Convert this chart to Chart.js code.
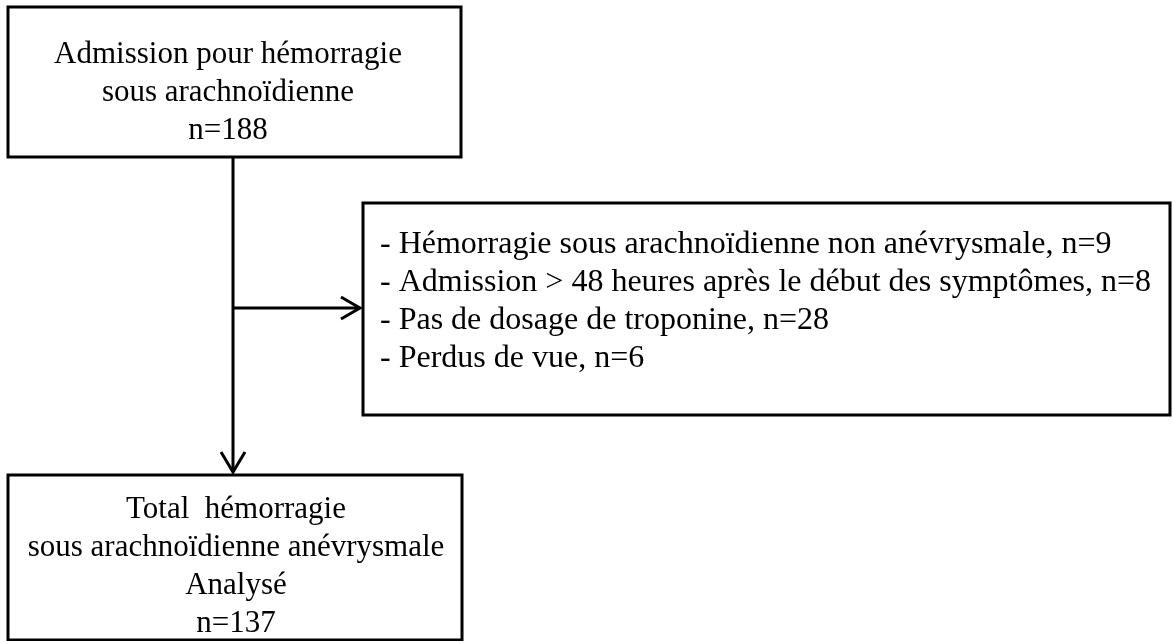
<!DOCTYPE html>
<html>
<head>
<meta charset="utf-8">
<script src="https://cdn.jsdelivr.net/npm/chart.js@4.4.1/dist/chart.umd.min.js"></script>
<style>
    html, body { margin: 0; padding: 0; background: #ffffff; }
    #wrap { width: 1173px; height: 641px; }
</style>
</head>
<body>
<div id="wrap"><canvas id="flowChart" width="1173" height="641"></canvas></div>
<script>
// Flow data
const stageLines = [
    ['Admission pour hémorragie', 'sous arachnoïdienne'],
    ['Total  hémorragie', 'sous arachnoïdienne anévrysmale', 'Analysé']
];
const stageCounts = [188, 137];
const exclusionReasons = [
    'Hémorragie sous arachnoïdienne non anévrysmale',
    'Admission > 48 heures après le début des symptômes',
    'Pas de dosage de troponine',
    'Perdus de vue'
];
const exclusionCounts = [9, 8, 28, 6];

// Layout in scale units (x: 0..1173, y: 0..641 top-down)
const boxes = {
    top: { x0: 8, y0: 7, x1: 461, y1: 157 },
    side: { x0: 363, y0: 203, x1: 1170, y1: 415 },
    bottom: { x0: 8, y0: 475, x1: 462, y1: 640 }
};
const stemX = 233;
const branchY = 308;
const lineGap = 38;
const fontBox = '31px "Liberation Serif", "Times New Roman", serif';
const fontSide = '32px "Liberation Serif", "Times New Roman", serif';

const flowPlugin = {
    id: 'flow',
    afterDraw(chart) {
        const ctx = chart.ctx;
        const xs = chart.scales.x;
        const ys = chart.scales.y;
        const px = v => xs.getPixelForValue(v);
        const py = v => ys.getPixelForValue(v);

        ctx.save();
        ctx.strokeStyle = '#000000';
        ctx.fillStyle = '#000000';
        ctx.lineWidth = 3;

        function rect(b) {
            ctx.strokeRect(px(b.x0), py(b.y0), px(b.x1) - px(b.x0), py(b.y1) - py(b.y0));
        }
        rect(boxes.top);
        rect(boxes.side);
        rect(boxes.bottom);

        // main stem with arrow
        const tipY = boxes.bottom.y0 - 3;
        ctx.beginPath();
        ctx.moveTo(px(stemX), py(boxes.top.y1));
        ctx.lineTo(px(stemX), py(tipY));
        ctx.stroke();
        ctx.beginPath();
        ctx.moveTo(px(stemX - 12), py(tipY - 20));
        ctx.lineTo(px(stemX), py(tipY));
        ctx.lineTo(px(stemX + 12), py(tipY - 20));
        ctx.stroke();

        // branch to exclusions
        const tipX = boxes.side.x0 - 3;
        ctx.beginPath();
        ctx.moveTo(px(stemX), py(branchY));
        ctx.lineTo(px(tipX), py(branchY));
        ctx.stroke();
        ctx.beginPath();
        ctx.moveTo(px(tipX - 19), py(branchY - 11));
        ctx.lineTo(px(tipX), py(branchY));
        ctx.lineTo(px(tipX - 19), py(branchY + 11));
        ctx.stroke();

        // texts
        ctx.font = fontBox;
        ctx.textBaseline = 'alphabetic';
        ctx.textAlign = 'center';
        function centred(cx, lines, firstBase) {
            lines.forEach((t, i) => ctx.fillText(t, px(cx), py(firstBase + i * lineGap)));
        }
        centred(228, stageLines[0].concat('n=' + stageCounts[0]), 63);
        centred(236, stageLines[1].concat('n=' + stageCounts[1]), 518);

        ctx.font = fontSide;
        ctx.textAlign = 'left';
        exclusionReasons.forEach((r, i) => {
            ctx.fillText('- ' + r + ', n=' + exclusionCounts[i], px(380), py(253 + i * lineGap));
        });
        ctx.restore();
    }
};

const flowChart = new Chart(document.getElementById('flowChart'), {
    type: 'scatter',
    data: { datasets: [] },
    options: {
        responsive: false,
        animation: false,
        layout: { padding: 0 },
        plugins: { legend: { display: false }, tooltip: { enabled: false } },
        scales: {
            x: { type: 'linear', min: 0, max: 1173, display: false },
            y: { type: 'linear', min: 0, max: 641, reverse: true, display: false }
        }
    },
    plugins: [flowPlugin]
});
</script>
</body>
</html>
